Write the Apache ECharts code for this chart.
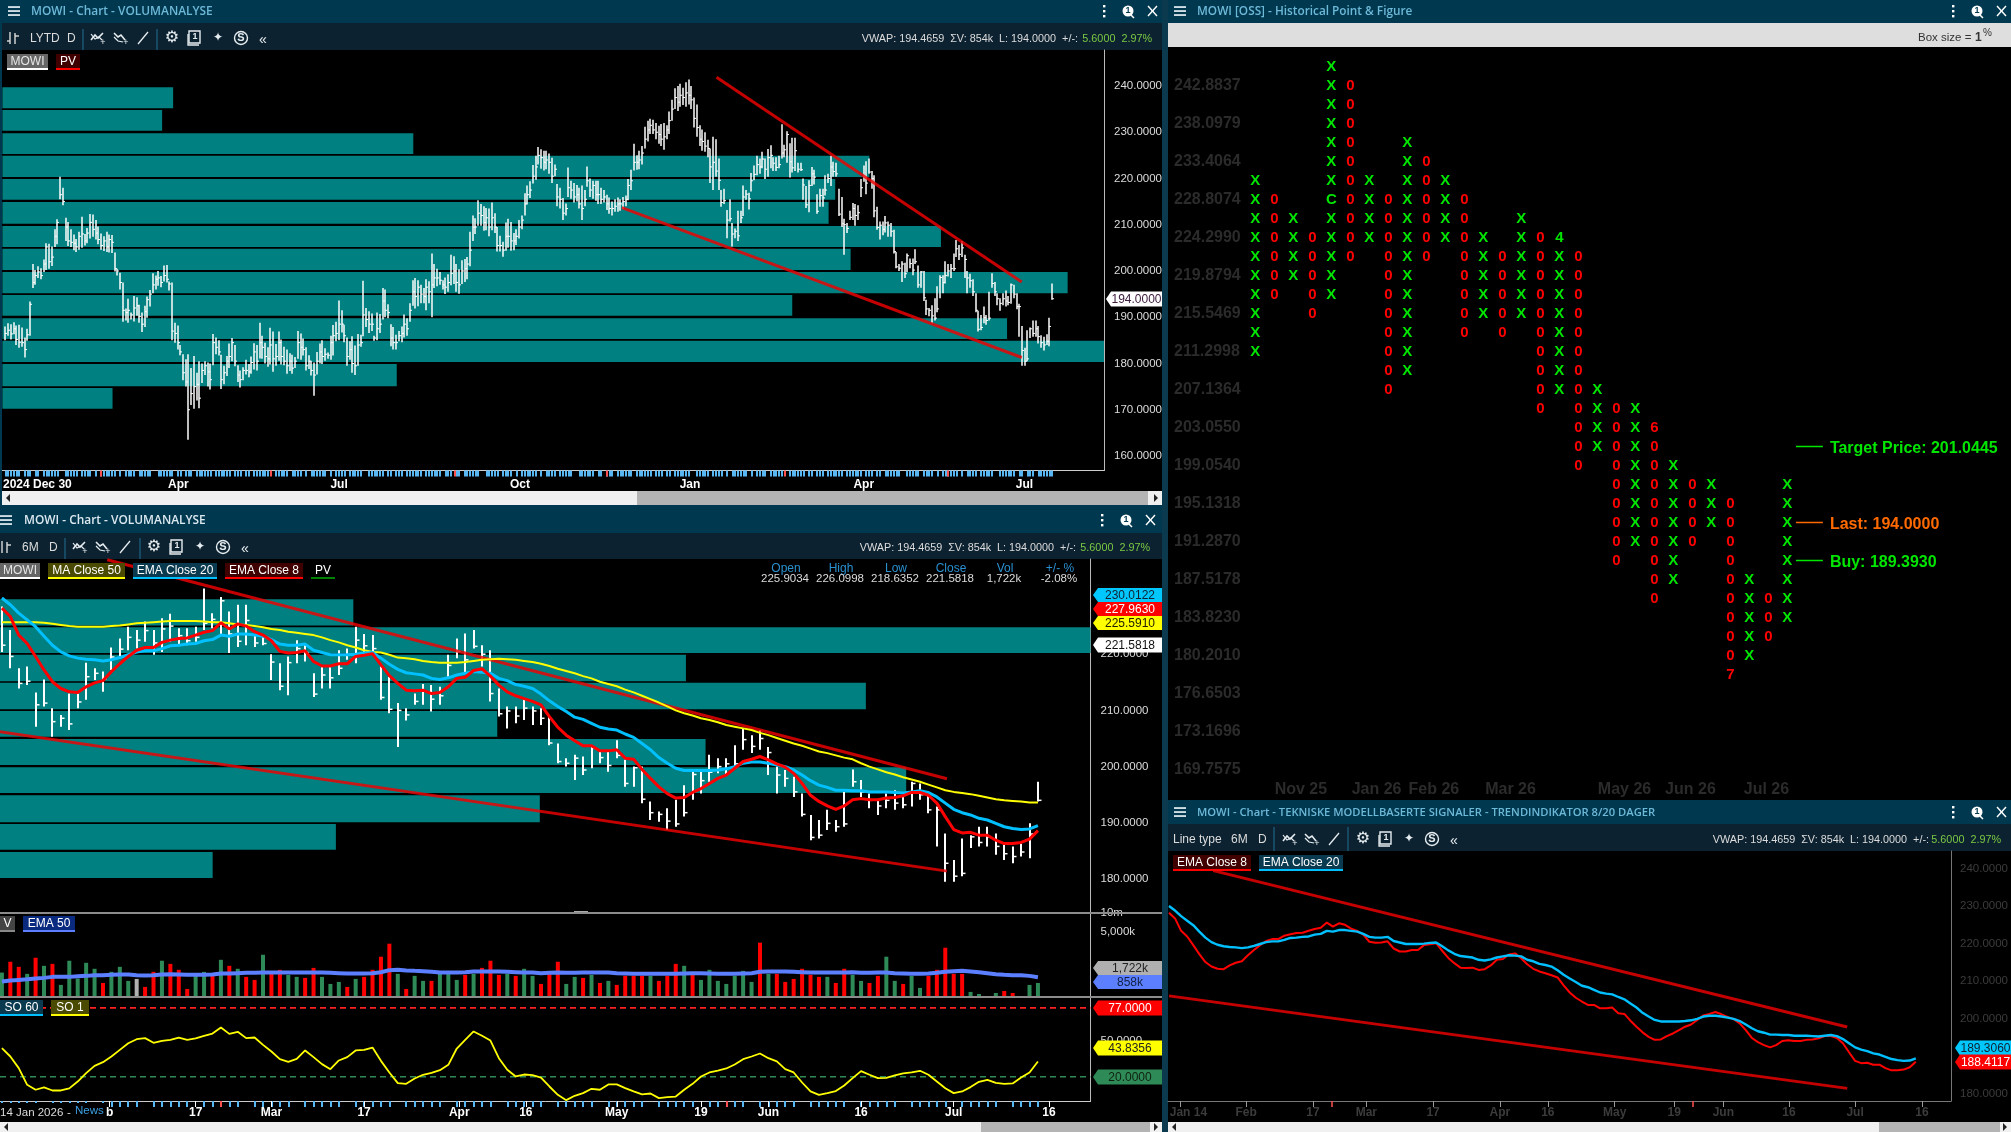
<!DOCTYPE html>
<html><head><meta charset="utf-8"><style>html,body{margin:0;padding:0;background:#003850}#c{width:2011px;height:1132px}</style>
<script src="https://cdn.jsdelivr.net/npm/echarts@6/dist/echarts.min.js"></script></head><body><div id="c"></div>
<script>
// ---------- daily bars ----------
const earlyHighs=[188.0,188.7,188.5,188.9,188.2,188.4,187.8,185.6,187.5,193.4,201.5,200.2,201.0,200.6,202.5,206.0,205.9,205.3,209.0,211.2,220.4,218.0,211.5,210.6,209.0,207.9,206.9,208.5,211.7,208.0,209.3,212.3,212.2,211.0,209.6,208.1,207.5,208.5,207.9,207.8,204.0,200.5,199.6,197.5,191.9,194.0,191.0,194.6,194.3,192.7,191.0,192.5,194.5,195.9,199.5,199.0,200.0,198.9,201.2,201.3,197.7,197.5,188.8,188.2,184.0,182.0,180.9,182.0,179.0,181.6,178.0,180.5,180.0,180.5,180.2,180.0,186.4,185.6,185.0,181.9,179.5,181.6,184.3,185.5,184.0,179.6,178.5,179.2,180.8,179.9,181.5,184.4,184.0,188.8,186.0,184.5,183.5,187.7,186.9,184.2,186.9,185.2,183.6,183.0,182.2,181.9,181.4,187.0,186.5,185.4,183.5,181.8,180.6,180.2,182.5,184.3,185.0,183.3,182.4,186.0,188.3,189.0,193.6,191.5,188.4,185.6,184.8,185.9,183.9,186.4,186.2,197.9,192.0,191.3,190.8,186.0,191.0,190.7,196.3,196.0,192.8,188.5,187.9,186.2,187.0,188.0,190.6,189.8,193.0,198.0,198.5,198.0,197.0,196.3,198.2,197.8,203.8,201.5,200.5,199.8,198.0,198.6,199.3,203.5,203.2,201.5,200.4,202.3,202.6,203.0,208.5,212.0,211.4,215.3,214.5,214.0,213.6,213.5,214.8,212.5,209.5,207.6,206.3,210.5,211.3,210.6,208.2,209.0,211.0,212.0,216.8,218.5,219.4,222.9,224.9,226.8,226.3,226.0,226.0,225.4,224.5,223.0,218.8,218.0,215.8,214.6,222.4,219.5,219.0,218.6,218.0,218.5,217.5,222.6,220.0,219.5,219.5,219.5,218.0,217.5,216.5,215.9,215.0,215.5,215.9,215.5,216.0,216.3,219.9,221.9,227.5,225.0,226.0,227.0,231.2,232.5,232.9,232.7,232.0,231.4,231.8,232.0,231.5,234.5,237.0,239.5,240.0,240.5,239.6,240.8,241.4,240.0,237.5,236.0,231.5,230.6,230.0,228.4,226.5,229.0];
const earlyLows=[185.0,186.0,185.2,186.3,184.0,183.4,183.6,181.3,184.9,186.0,196.3,197.0,198.5,198.2,199.8,200.2,200.5,201.1,205.2,205.8,215.5,214.2,206.5,205.4,205.2,204.5,204.1,204.6,205.0,205.5,206.0,207.0,207.4,206.8,205.8,204.6,204.3,204.1,204.0,203.9,199.9,199.0,196.0,189.0,189.3,188.8,189.5,189.1,190.3,188.8,186.8,187.9,189.9,192.3,195.2,196.0,196.8,196.5,197.7,197.5,195.8,185.0,184.5,183.0,181.8,176.4,175.0,163.5,171.0,170.2,172.0,170.3,175.8,177.5,175.0,174.4,179.6,182.0,181.7,174.5,175.5,177.3,179.0,180.5,179.4,176.0,174.8,176.4,177.6,177.0,177.8,178.7,178.5,181.1,181.0,180.0,179.3,179.8,178.2,179.5,180.6,179.8,179.6,177.8,178.4,177.8,179.0,181.0,180.8,181.7,178.5,178.8,177.4,173.0,177.6,180.0,179.9,180.6,181.0,180.8,181.7,184.8,185.0,186.7,184.6,179.5,180.8,178.0,177.5,179.5,183.6,185.9,187.9,186.6,187.0,184.9,185.0,186.6,189.5,190.0,189.8,183.7,183.0,183.0,184.8,184.6,185.6,186.0,189.0,192.5,191.9,192.4,193.0,193.0,191.5,193.0,190.0,196.3,196.7,197.0,196.0,195.0,195.5,196.9,197.2,195.5,195.1,197.2,197.6,198.2,201.0,206.5,208.0,209.8,209.8,208.7,208.8,207.5,208.8,208.2,204.2,204.2,203.1,204.4,205.0,204.4,204.5,205.6,207.0,209.0,212.0,214.4,215.8,218.9,219.7,223.0,222.1,221.7,222.0,221.0,219.0,220.5,214.0,213.5,211.0,212.0,216.0,215.6,214.8,215.0,213.5,211.0,214.0,218.2,216.0,215.6,215.2,214.5,214.5,214.8,213.2,212.4,212.0,212.8,212.8,213.0,213.4,214.0,215.3,217.5,221.7,221.9,222.0,223.0,226.5,228.0,229.6,229.6,228.5,227.5,227.0,226.2,228.5,229.6,232.5,235.0,234.6,235.5,235.9,235.5,236.0,235.0,231.0,229.0,227.0,226.0,225.8,224.6,219.0,217.5];
const earlyCloses=[186.5,187.2,186.4,187.5,185.2,184.6,184.5,183.0,186.2,192.8,197.5,199.0,199.8,199.0,201.5,205.2,202.0,203.0,207.5,210.5,216.5,215.0,209.5,206.5,206.2,206.0,205.2,207.5,208.0,206.5,208.2,210.5,209.0,208.2,206.8,205.5,206.5,205.2,206.8,206.2,200.5,200.0,197.5,191.5,191.0,191.5,190.5,192.0,192.5,190.2,188.5,191.2,193.8,195.0,197.0,198.2,198.5,197.5,199.0,198.2,197.2,187.0,186.5,184.5,182.5,178.0,176.0,170.0,173.5,175.0,175.5,172.5,178.5,179.5,178.2,176.5,184.5,183.5,182.5,176.5,178.0,180.5,181.5,184.5,180.5,177.5,176.5,178.5,178.5,178.2,180.2,182.5,180.5,184.5,183.5,181.5,181.0,184.0,181.0,181.5,184.5,181.5,180.5,179.5,180.5,179.0,180.5,184.5,183.5,183.0,179.5,180.5,178.5,177.5,180.5,182.5,181.5,182.0,181.8,184.5,186.0,186.5,188.5,188.5,186.0,181.5,183.0,180.0,179.5,184.0,184.5,190.5,189.5,188.5,188.5,185.5,187.5,188.5,193.5,191.5,191.0,185.5,184.5,184.5,186.0,186.5,188.5,187.5,191.5,195.5,194.5,196.5,195.0,194.5,196.5,195.5,197.0,198.5,198.5,198.0,197.0,196.5,197.5,199.5,200.0,197.5,197.0,200.0,200.5,201.5,204.5,209.5,209.5,212.5,212.0,210.5,211.5,209.5,211.5,209.5,205.5,205.5,204.5,207.5,207.5,206.5,206.5,207.5,209.5,211.0,214.5,216.5,217.5,220.5,222.5,225.0,224.5,223.5,224.0,223.5,220.5,222.0,216.0,215.5,212.5,213.5,218.0,217.5,216.0,216.5,214.5,213.5,215.5,219.5,217.5,218.5,216.5,216.5,215.5,216.0,214.5,213.5,213.5,214.0,214.5,214.5,215.0,215.5,218.5,219.5,223.5,223.5,224.0,225.5,228.5,230.5,231.5,230.5,230.0,229.5,228.5,229.0,230.5,232.5,235.0,237.5,236.5,238.0,237.5,238.5,238.0,237.0,233.0,231.0,228.5,228.0,227.0,226.5,222.5,223.5];
const lateHighs=[228.5,224.3,217.5,217.8,213.2,215.5,210.4,209.2,213,213,218.5,217.5,216.9,221.2,222.8,224.9,224.3,225.8,224.3,226.4,227.2,224.6,224.6,224.9,231.7,227.3,230.2,227.6,228.8,228.8,223.4,223.4,220,218.4,219.6,222.5,221.9,216.6,217.8,217.8,220.7,221,224.9,223.6,223.4,217.8,216,211.3,210.4,213,214.7,214.5,214.2,219.9,222.8,223.7,224.3,221.6,220.7,213.9,210.7,210.7,211.9,210.7,210.4,208.9,204.1,201.5,202.1,201.8,203.8,202.7,202.7,204.7,201.2,200,200,193.8,192,192.6,194.1,196.7,199.1,199.1,202.1,201.5,201.5,203.8,206.7,205.6,206.5,203.5,200,199.4,198.2,195.2,191.4,190.5,192.3,190.5,195.5,199.5,197.6,195.2,194.1,195.2,195.8,194.6,197.3,197,195.2,192.9,188.1,183.4,187.2,187.8,189.3,189.3,188.1,186.1,185.8,186.3,189.9,197.3];
const lateLows=[220.4,217.5,213.9,214.5,207.1,210.7,205.3,207.1,206.5,210.4,211.9,215.4,213.3,217.2,219.6,220.7,221,222.2,219.9,220.4,222.2,221.6,221.6,222.2,224.3,224.6,223.4,220.2,221.3,221.6,221.3,221.6,215.4,213.6,212.7,218.4,218.7,212.4,213.9,213.9,216.3,219,218.4,220.4,220.4,211.9,209.5,203.5,208.2,211,211,209.8,211,216,219.3,216.6,221,217.8,211.6,208.9,206.8,207.7,208.3,207.4,207.4,203.8,200.6,200,197.6,198.5,199.7,200.6,199.1,201.5,196.4,196.4,193.5,190.5,190.2,188.7,189.3,191.1,194.1,195.2,197.3,198.8,198.5,200,203,202.4,203,198.5,195.2,196.4,194.6,191.1,186.9,187.2,188.7,188.4,189.3,196.4,194.6,192.6,191.4,192.6,192.3,192.6,192.9,194.1,191.7,185.8,179.5,179.5,180.5,185.5,185.8,185.8,184.3,183.4,182.8,184,183.7,193.8];
const lateCloses=[221.6,219.6,214.8,215.2,211,211.3,208,208.6,207.6,211.5,216,216.6,215.6,219.5,220.9,223,222.5,224.2,222,224.5,225,223.3,222.4,223,225.5,226.2,229.5,223.6,222.3,226,222,221.9,218.6,214.3,218.5,221,220.3,212.9,216.3,215.8,217.5,220,222.5,221.5,221,212.3,210.2,210,209.2,211.6,213.5,212,212.6,218,220.5,219,221.4,220,213,209.4,209.9,209,210.4,209.9,208.6,204.2,200.9,200.6,201.5,199.4,203.3,201.6,200.2,202,197,199.8,194.2,191.8,191.5,190.3,189.8,191.8,198.6,197.5,199,200,200.5,200.5,204.8,203.6,205,202.5,198.5,197.9,195.5,191.5,187.4,187.8,189.9,189.3,189.8,197.3,195.5,194,193,194,193.5,193.2,197,195,192.3,192.3,182.8,180.5,181,187.5,186.5,187.5,185.8,184.5,184,184.8,188,194];
// ---------- moving averages, last six months ----------
const ema8=[228.2,226.7,223.4,221.9,219.6,217.2,215.1,213.9,213.3,213.2,214.2,214.9,215.3,216.9,218.3,219.6,220.7,221.2,221.2,222.1,222.5,222.8,222.9,223.4,223.9,224.2,225.6,224.5,225.4,225,224,223.4,222.4,220.5,220.2,220.3,220.6,218.7,217.9,217.9,218.3,218.3,219.6,219.8,220.1,218.1,216.2,214.8,213.6,213.5,213.6,213,213.2,214.2,215.7,215.9,217.1,217.4,216.1,214.5,213.3,212.6,212.1,211.6,211,208.9,207,205.6,204.6,203.7,203.7,202.8,202.8,203,201.5,201.3,199.5,197.9,196.4,195.2,194.4,194.5,195.4,196.1,197,197.9,198.5,199.7,200.9,201.3,201.8,201.2,200.5,199.9,198.8,197,194.9,193.8,193,192.4,193,194.1,194.3,194.1,194.1,194.4,194.5,194.8,195.4,195.4,194.9,193.5,191.1,188.8,188.2,188.3,187.8,187.8,186.9,186.3,186.3,186.5,187.1,188.6];
const ema20=[230,228.8,227.3,226.1,224.9,223.2,221.6,220.4,219.7,219.3,219.1,219,218.8,219,219.4,219.9,220.4,220.6,220.6,221,221.5,221.6,221.8,221.9,222.4,222.6,223.4,223.2,223.6,223.6,223.4,223.2,222.6,221.8,221.6,221.6,221.8,220.7,220.3,219.9,219.9,219.9,220,220.2,220.3,219.3,218.2,217.3,216.7,216.5,216.3,215.7,215.5,215.8,216.3,216.6,216.9,216.8,216.6,215.7,215.3,214.6,214.3,213.9,212.9,211.7,210.7,209.8,208.8,208.4,207.7,207,206.7,206.5,205.8,205.2,204.1,203,201.6,200.6,199.7,199.3,199.3,199.3,199.3,199.4,199.6,200,200.6,200.8,200.8,200.6,200.3,200,199.4,198.5,197.5,196.7,196.3,195.8,195.8,195.7,195.7,195.5,195.5,195.5,195.4,195.3,195.5,195.7,195.4,194.6,193.5,192.4,191.8,191.4,190.8,190.5,189.9,189.3,189,188.8,188.9,189.5];
const ma50=[225.7,225.7,225.7,225.7,225.7,225.6,225.4,225.2,225,224.9,224.9,224.9,224.9,225,225.1,225.3,225.5,225.6,225.7,225.8,225.9,225.9,225.9,225.9,225.8,225.7,225.7,225.5,225.3,225.2,225,224.8,224.5,224.3,224,223.8,223.6,223.4,223,222.5,222.1,221.6,221.2,220.7,220.4,220.3,219.9,219.4,219.3,219.1,218.8,218.6,218.5,218.5,218.5,218.6,218.8,219,219.1,219.2,219.1,219,218.8,218.6,218.3,217.9,217.4,217,216.6,216.1,215.7,215.1,214.7,214.3,213.7,213.2,212.6,212,211.4,210.7,210,209.5,209.1,208.6,208.3,207.9,207.4,207.1,206.8,206.5,206,205.6,205.1,204.6,204.1,203.7,203.2,202.7,202.4,202,201.6,201.3,200.6,200,199.5,199,198.6,198.1,197.7,197.3,196.8,196.3,195.8,195.5,195.3,195.1,194.8,194.5,194.2,194,193.9,193.8,193.6,193.6];
// ---------- volume ----------
const volumes=[1880,2710,2320,1780,3020,2400,2550,930,2790,1420,2630,2170,1080,1935,2320,1240,1390,775,1935,2790,2550,2090,620,1625,1935,1700,2860,2400,2170,1550,1315,3250,1780,2090,1700,1550,1470,2240,1550,1005,1160,775,1390,1550,2090,3100,4100,1780,620,1625,1240,1240,1780,1780,1315,1700,1780,2240,2790,1700,1780,1625,2170,1625,1005,1780,2710,1005,1550,1470,1700,1080,1240,930,1625,1625,1625,1625,1240,1625,2550,2400,1700,1315,2090,1240,1005,1625,2010,1160,4180,1780,1780,1160,1390,2170,1700,1550,1550,1080,2170,1700,1240,1080,1625,3100,1240,1005,1625,700,1625,2090,3790,1780,1780,390,230,50,310,465,310,50,930,1080];
const volColors=['g','r','r','g','r','g','r','g','g','g','g','g','r','g','g','g','n','r','r','g','r','r','r','g','g','r','g','r','g','r','r','g','r','r','g','g','r','r','g','g','g','r','g','r','r','r','r','g','r','g','g','r','g','g','g','r','g','r','r','r','g','r','g','g','r','r','r','g','g','r','g','r','g','r','r','r','r','g','r','r','r','g','r','g','g','g','g','g','g','g','r','g','r','r','r','r','r','r','g','r','r','g','g','r','r','g','g','r','g','g','r','r','r','r','r','g','g','r','g','r','r','g','g','g'];
const volEma50=[1187,1264,1316,1367,1419,1471,1548,1548,1548,1600,1625,1677,1677,1703,1729,1729,1677,1651,1677,1729,1754,1729,1703,1703,1703,1729,1806,1806,1832,1858,1858,1883,1883,1883,1883,1883,1883,1883,1883,1858,1832,1806,1806,1806,1832,1909,2064,2090,2038,2012,1987,1935,1883,1883,1883,1909,1961,1961,1961,1961,1935,1909,1883,1883,1832,1858,1883,1858,1858,1883,1883,1883,1883,1832,1806,1780,1780,1780,1780,1780,1780,1806,1832,1832,1806,1780,1780,1780,1806,1832,1935,1961,1961,1961,1935,1909,1883,1883,1883,1883,1883,1909,1858,1858,1883,1883,1832,1806,1780,1780,1806,1858,1935,1987,2012,1961,1909,1832,1754,1703,1677,1677,1625,1522];
// ---------- stochastic ----------
const stoch=[43.7,36.8,27.2,13.4,9.3,11.2,8.7,8.7,10.4,16.1,23,29.1,32.1,36.8,42.3,47.8,51.1,52,48.1,49.8,50.6,52.5,50.6,51.7,53.9,55.8,60.8,55.5,57.2,52,52.5,46.4,40.9,34.6,32.4,34.9,41.8,36.3,30.5,26.3,33.5,36.3,41.8,42.3,44.2,33.2,23.6,14.8,14.2,18.6,21.7,23.3,25.5,29.9,43.4,50.6,57.5,53.9,50,35.4,25.8,20.3,21.9,21.4,19.4,12,5.1,0.7,4.3,6.5,10.1,9.3,13.7,13.7,10.6,7.9,5.4,6.2,2.4,3.2,3.7,9.3,14.2,20.3,23.6,25.2,26.9,30.2,34.6,36.8,39.3,35.4,32.7,26.3,23.6,15.3,7.9,5.1,6.5,8.2,12.8,18.9,24.7,21.7,18.9,19.2,21.1,22.8,23.6,25,21.7,16.1,10.6,6.5,7.9,11.5,15.9,17.5,15,14.2,14.5,19.4,23.6,32.7];
const soLevels=[77,20];
// ---------- volume profiles ----------
const profTopHigh=[239.7,234.8,229.8,224.9,219.9,214.9,209.7,204.8,199.8,194.8,189.8,184.9,179.9,174.7];
const profTopLow=[235.2,230.3,225.3,220.3,215.4,210.2,205.2,200.2,195.2,190.3,185.3,180.3,175.1,170.2];
const profTopVol=[15.5,14.5,37.3,78.7,75.6,75,85.2,77,96.7,71.7,91.2,100,35.8,10];
const profMidHigh=[229.8,224.8,219.9,214.9,209.9,204.9,199.9,194.9,189.8,184.8];
const profMidLow=[225.1,220.2,215.2,210.2,205.3,200.3,195.3,190.1,185.2,180.2];
const profMidVol=[32.4,100,62.9,79.4,45.6,64.7,83.1,49.5,30.8,19.5];
// ---------- trend lines (bar index, price) ----------
const topUpperIdx=[260.2,371.9], topUpperPx=[241.9,197.6], topLowerIdx=[225.6,371.9], topLowerPx=[213.7,181.3];
const midUpperIdx=[12.5,112.2], midUpperPx=[236.8,197.85], midLowerIdx=[-0.3,112.2], midLowerPx=[206.2,181.4];
const rgtUpperIdx=[7.3,111.7], rgtUpperPx=[239.4,197.8], rgtLowerIdx=[0,111.7], rgtLowerPx=[206.1,181.5];
// ---------- axis labels ----------
const topLabelIdx=[11.7,63.3,122.1,188.3,250.5,314.1,372.9], topLabels=['2024 Dec 30','Apr','Jul','Oct','Jan','Apr','Jul'];
const topRedTicks=[35,97,164.5,220,285,345];
const soLabelIdx=[12.8,23,32,43,54.3,62.2,73,83,91,102,113,124.3], soLabels=['b','17','Mar','17','Apr','16','May','19','Jun','16','Jul','16'];
const soRedTicks=[26,86];
const rgtLabelIdx=[3.2,12.7,23.7,32.5,43.5,54.5,62.4,73.4,83.2,91.3,102.1,113,124], rgtLabels=['Jan 14','Feb','17','Mar','17','Apr','16','May','19','Jun','16','Jul','16'];
const rgtTickIdx=[1.8,12.7,23.7,32.5,43.5,54.5,62.4,73.4,83.2,91.3,102.1,113,124], rgtRedTicks=[26.8,86.3];
const topPriceTicks=[160,170,180,190,200,210,220,230,240];
const midPriceTicks=[180,190,200,210,220];
const rgtPriceTicks=[180,190,200,210,220,230,240];
// ---------- point & figure ----------
const pfPrices=['242.8837','238.0979','233.4064','228.8074','224.2990','219.8794','215.5469','211.2998','207.1364','203.0550','199.0540','195.1318','191.2870','187.5178','183.8230','180.2010','176.6503','173.1696','169.7575'];
const pfType=['X','0','X','0','X','0','X','0','X','0','X','0','X','0','X','0','X','0','X','0','X','0','X','0','X','0','X','0','X'];
const pfFirst=[6,7,8,9,0,1,6,7,4,5,6,7,9,10,8,9,10,10,17,18,18,20,21,22,22,23,27,28,22];
const pfLast=[15,12,11,13,12,10,9,17,16,10,9,14,13,14,13,18,17,21,20,26,25,28,27,25,24,31,31,30,29];
const pfSpecialCol=[4,16,21,25], pfSpecialRow=[7,9,19,32], pfSpecialChar=['C','4','6','7'];
const pfMonths=['Nov 25','Jan 26','Feb 26','Mar 26','May 26','Jun 26','Jul 26'], pfMonthCol=[2.4,6.38,9.4,13.43,19.43,22.9,26.9];
const pfTargetNames=['Target Price: 201.0445','Last: 194.0000','Buy: 189.3930'], pfTargetRows=[20,24,26], pfTargetColors=['#00e600','#ff6a00','#00e600'];

// ---------- derived bar tables ----------
const highs=earlyHighs.concat(lateHighs), lows=earlyLows.concat(lateLows), closes=earlyCloses.concat(lateCloses);
const allBars=highs.map((h,i)=>[i,h,lows[i],closes[i]]);
const lateBars=lateHighs.map((h,i)=>[i,h,lateLows[i],lateCloses[i]]);
const idx=a=>a.map((v,i)=>[i,v]);
const FONT='"Liberation Sans",Arial,sans-serif', TF='"Open Sans",sans-serif';
const TEAL='#008080', TXT='#dcdcdc';
const pairs=(a,b)=>a.map((v,i)=>[v,b[i]]);

function ohlc(tick,w,tw){return (p,api)=>{const i=api.value(0),a=api.coord([i,api.value(1)]),b=api.coord([i,api.value(2)]),c=api.coord([i,api.value(3)]);
 const x=Math.round(a[0]);
 return {type:'group',children:[{type:'line',shape:{x1:x,y1:a[1],x2:x,y2:b[1]},style:{stroke:'#fff',lineWidth:w}},
 {type:'line',shape:{x1:x,y1:c[1],x2:x+tick,y2:c[1]},style:{stroke:'#fff',lineWidth:tw}}]};};}
function prof(p,api){const a=api.coord([0,api.value(0)]),b=api.coord([api.value(2),api.value(1)]);
 return {type:'rect',shape:{x:a[0],y:a[1],width:b[0]-a[0],height:b[1]-a[1]},style:{fill:TEAL}};}

const X=(g,min,max,extra)=>{const o=Object.assign({type:'value',gridIndex:g,min,max,position:'bottom',splitLine:{show:false},axisLine:{show:false},axisTick:{show:false},axisLabel:{show:false}},extra||{});o.axisLine.onZero=false;return o;};
const Y=(g,min,max,ticks,color,margin,fmt)=>({type:'value',gridIndex:g,min,max,position:'right',splitLine:{show:false},axisTick:{show:false},
 axisLine:{show:true,onZero:false,lineStyle:{color:color==='#3c3c3c'?'#777':'#bbb',width:1}},
 axisLabel:{show:true,customValues:ticks,color,margin,fontFamily:FONT,fontSize:11.5,padding:[2,0,0,0],formatter:fmt||(v=>Number(v).toFixed(4))}});
const range=n=>[...Array(n).keys()];

const topX=[-1.1,402],midX=[-0.226,129.24],rgtX=[-0.16,128.8],blue='#58b6f2';
const xAxis=[
 X(0,topX[0],topX[1],{axisLine:{show:true,lineStyle:{color:'#ccc'}},axisTick:{show:true,customValues:range(highs.length).filter(i=>i%7!==6&&i%11!==10),length:6,lineStyle:{color:blue,width:2}},
   axisLabel:{show:true,customValues:topLabelIdx,color:'#fff',fontWeight:'bold',fontFamily:FONT,fontSize:12,margin:8,formatter:v=>topLabels[topLabelIdx.indexOf(v)]}}),
 X(0,topX[0],topX[1],{axisTick:{show:true,customValues:topRedTicks,length:6,lineStyle:{color:'#ff5050',width:2}}}),
 X(0,0,100),
 X(1,midX[0],midX[1]),X(1,0,100),
 X(2,midX[0],midX[1]),
 X(3,midX[0],midX[1],{axisLine:{show:true,lineStyle:{color:'#ccc'}},axisTick:{show:true,customValues:range(124).filter(i=>i%6!==5),length:6,lineStyle:{color:blue,width:2}},
   axisLabel:{show:true,customValues:soLabelIdx,color:'#fff',fontWeight:'bold',fontFamily:FONT,fontSize:12,margin:6,formatter:v=>soLabels[soLabelIdx.indexOf(v)]}}),
 X(3,midX[0],midX[1],{axisTick:{show:true,customValues:soRedTicks,length:6,lineStyle:{color:'#ff5050',width:2}}}),
 X(3,midX[0],midX[1],{axisTick:{show:true,customValues:soLabelIdx,length:6,lineStyle:{color:'#fff',width:1}}}),
 X(4,-4.595,39.77),
 X(5,rgtX[0],rgtX[1],{axisLine:{show:true,lineStyle:{color:'#777'}},axisTick:{show:true,customValues:rgtTickIdx,length:6,lineStyle:{color:'#999',width:1}},
   axisLabel:{show:true,customValues:rgtLabelIdx,color:'#3c3c3c',fontWeight:'bold',fontFamily:FONT,fontSize:12,margin:6,formatter:v=>rgtLabels[rgtLabelIdx.indexOf(v)]}}),
 X(5,rgtX[0],rgtX[1],{axisTick:{show:true,customValues:rgtRedTicks,length:6,lineStyle:{color:'#ff5050',width:1.5}}}),
];
const yAxis=[
 Y(0,156.84,247.78,topPriceTicks,TXT,10),
 Y(1,173.95,236.94,midPriceTicks,TXT,10),
 Y(2,0,6461,[5000,6461],TXT,10,v=>v>6000?'10m':'5,000k'),
 Y(3,0,86,[50],TXT,10),
 {type:'value',gridIndex:4,min:-1.02,max:38.6,inverse:true,position:'left',splitLine:{show:false},axisTick:{show:false},axisLine:{show:false,onZero:false},
  axisLabel:{show:true,inside:true,margin:6,padding:[2,0,0,0],customValues:pfPrices.map((_,i)=>1+2*i),color:'#2b2b2b',fontWeight:'bold',fontFamily:FONT,fontSize:16,formatter:v=>pfPrices[(v-1)/2]}},
 Y(5,178.14,244.63,rgtPriceTicks,'#3c3c3c',9),
];
const grid=[
 {left:2,top:50,width:1102,height:420.6},
 {left:0,top:559,width:1090.5,height:354},
 {left:0,top:913,width:1090.5,height:84},
 {left:0,top:997,width:1090.5,height:104},
 {left:1168,top:47,width:843,height:753},
 {left:1168,top:851,width:785.5,height:250},
];
const lineS=(x,y,data,color,w,z,extra)=>Object.assign({type:'line',xAxisIndex:x,yAxisIndex:y,data,showSymbol:false,symbol:'none',silent:true,z,lineStyle:{color,width:w},itemStyle:{color}},extra||{});
const trend=(x,y,d)=>lineS(x,y,d,'#f00000',3,6,{lineStyle:{color:'#f00000',width:3,opacity:.82}});

// P&F tables
const pfCells=[];
pfType.forEach((t,c)=>{for(let r=pfFirst[c];r<=pfLast[c];r++){const s=pfSpecialCol.findIndex((k,j)=>k===c&&pfSpecialRow[j]===r);
 pfCells.push([c,r,s>=0?pfSpecialChar[s]:t,t==='X'?'#00e600':'#ff0000']);}});
pfSpecialCol.forEach((c,j)=>{const r=pfSpecialRow[j];if(r<pfFirst[c]||r>pfLast[c])pfCells.push([c,r,pfSpecialChar[j],pfType[c]==='X'?'#00e600':'#ff0000']);});

const series=[
 {type:'custom',name:'Top profile',xAxisIndex:2,yAxisIndex:0,z:1,silent:true,data:profTopVol.map((v,i)=>[profTopHigh[i],profTopLow[i],v]),renderItem:prof,encode:{x:2,y:[0,1]}},
 {type:'custom',name:'MOWI',xAxisIndex:0,yAxisIndex:0,z:3,silent:true,data:allBars,renderItem:ohlc(2,1.5,1),encode:{x:0,y:[1,2,3]}},
 trend(0,0,pairs(topUpperIdx,topUpperPx)),trend(0,0,pairs(topLowerIdx,topLowerPx)),

 {type:'custom',name:'Mid profile',xAxisIndex:4,yAxisIndex:1,z:1,silent:true,data:profMidVol.map((v,i)=>[profMidHigh[i],profMidLow[i],v]),renderItem:prof,encode:{x:2,y:[0,1]}},
 {type:'custom',name:'MOWI 6M',xAxisIndex:3,yAxisIndex:1,z:3,silent:true,data:lateBars,renderItem:ohlc(3.5,2,1.5),encode:{x:0,y:[1,2,3]}},
 trend(3,1,pairs(midUpperIdx,midUpperPx)),trend(3,1,pairs(midLowerIdx,midLowerPx)),
 lineS(3,1,idx(ma50),'#ffff00',2,7),lineS(3,1,idx(ema20),'#00c0ff',3,8),lineS(3,1,idx(ema8),'#ff0000',3,9),

 {type:'bar',xAxisIndex:5,yAxisIndex:2,barWidth:4,z:3,silent:true,data:volumes.map((v,i)=>({value:[i,v],itemStyle:{color:volColors[i]==='g'?'#2e8b57':volColors[i]==='r'?'#ff0000':'#b0b0b0'}}))},
 lineS(5,2,idx(volEma50),'#5b7fff',4,5),

 lineS(6,3,[[midX[0],soLevels[0]],[midX[1],soLevels[0]]],'#ff2020',1.6,3,{lineStyle:{color:'#ff2020',width:1.6,type:[6,4]}}),
 lineS(6,3,[[midX[0],soLevels[1]],[midX[1],soLevels[1]]],'#2e8b57',1.6,3,{lineStyle:{color:'#2e8b57',width:1.6,type:[6,4]}}),
 lineS(6,3,idx(stoch),'#ffff00',1.8,5),

 {type:'custom',name:'Point and figure',xAxisIndex:9,yAxisIndex:4,z:3,silent:true,data:pfCells,encode:{x:0,y:1},renderItem:(p,api)=>{const d=pfCells[p.dataIndex],c=api.coord([d[0],d[1]]);
   return {type:'text',style:{x:c[0],y:c[1],text:d[2],fill:d[3],font:'bold 15px '+FONT,textAlign:'center',textVerticalAlign:'middle'}};}},
 {type:'custom',name:'P&F months',xAxisIndex:9,yAxisIndex:4,z:3,silent:true,data:pfMonthCol.map((c,i)=>[c,38,i]),encode:{x:0,y:1},renderItem:(p,api)=>{const c=api.coord([api.value(0),api.value(1)]);
   return {type:'text',style:{x:c[0],y:c[1]+1,text:pfMonths[p.dataIndex],fill:'#2b2b2b',font:'bold 16px '+FONT,textAlign:'center',textVerticalAlign:'middle'}};}},
 ...pfTargetNames.map((n,i)=>lineS(9,4,[[28.45,pfTargetRows[i]],[29.87,pfTargetRows[i]]],pfTargetColors[i],1.5,4,{name:n,endLabel:{show:true,formatter:n,color:pfTargetColors[i],fontFamily:FONT,fontWeight:'bold',fontSize:16,distance:7,offset:[0,2]}})),

 trend(10,5,pairs(rgtUpperIdx,rgtUpperPx)),trend(10,5,pairs(rgtLowerIdx,rgtLowerPx)),
 lineS(10,5,idx(ema8),'#ff0000',2,7),lineS(10,5,idx(ema20),'#00c0ff',2.4,8),
];

// ---------- window chrome ----------
const g=[];
const rect=(x,y,w,h,fill,z=0)=>g.push({type:'rect',silent:true,z,shape:{x,y,width:w,height:h},style:{fill}});
const ln=(x1,y1,x2,y2,stroke,w=1,z=50)=>g.push({type:'line',silent:true,z,shape:{x1,y1,x2,y2},style:{stroke,lineWidth:w}});
const txt=(x,y,text,fill,font,align='left',z=60)=>g.push({type:'text',silent:true,z,style:{x,y:y+1,text,fill,font,textAlign:align,textVerticalAlign:'middle'}});
const poly=(points,fill,z=55)=>g.push({type:'polygon',silent:true,z,shape:{points},style:{fill}});
const pl=(points,stroke,w=1.5,z=60)=>g.push({type:'polyline',silent:true,z,shape:{points},style:{stroke,lineWidth:w,fill:'none'}});
const TB='#003850',TOOL='#0d2230',BLK='#000';
function hamburger(x,y){for(let k=-4;k<=4;k+=4)rect(x,y+k-.8,12,1.7,'#e8f0f4',60);}
function winBtns(x,y){for(let k=-5;k<=5;k+=5)rect(x-1,y+k-1,2.4,2.4,'#fff',60);
 g.push({type:'circle',silent:true,z:60,shape:{cx:x+24,cy:y,r:5.5},style:{fill:'#fff'}});txt(x+24,y-1,'1',TB,'bold 9px '+FONT,'center',61);ln(x+27,y+4,x+30,y+7,'#fff',1.5,60);
 ln(x+44,y-5,x+53,y+5,'#fff',1.4,60);ln(x+53,y-5,x+44,y+5,'#fff',1.4,60);}
function toolbar(cx,y){
 const c='#e6edf0';
 pl([[cx[0]-6,y+2],[cx[0]-2,y-3],[cx[0]+1,y],[cx[0]+6,y-5]],c,1.6);pl([[cx[0]-6,y-4],[cx[0]-2,y+1],[cx[0]+2,y-1],[cx[0]+5,y+2]],c,1.2);txt(cx[0]+6,y+4,'+',c,'9px '+FONT,'center');
 pl([[cx[1]-6,y-5],[cx[1]-2,y-1],[cx[1]+1,y-3],[cx[1]+5,y+2]],c,1.6);pl([[cx[1]-6,y-1],[cx[1]-2,y+3],[cx[1]+3,y+4]],c,1.2);txt(cx[1]+6,y+4,'+',c,'9px '+FONT,'center');
 ln(cx[2]-5,y+6,cx[2]+5,y-6,c,1.3,60);
 txt(cx[3],y-1,'⚙',c,'16px "DejaVu Sans"','center');
 g.push({type:'rect',silent:true,z:60,shape:{x:cx[4]-6,y:y-7,width:11,height:12},style:{stroke:c,fill:'none',lineWidth:1.4}});pl([[cx[4]-7,y-4],[cx[4]-7,y+7],[cx[4]+4,y+7]],c,1.3);txt(cx[4],y-2,'1',c,'bold 9px '+FONT,'center');
 txt(cx[5],y-1,'✦',c,'12px "DejaVu Sans"','center');
 g.push({type:'circle',silent:true,z:60,shape:{cx:cx[6],cy:y,r:6.5},style:{stroke:c,fill:'none',lineWidth:1.4}});txt(cx[6],y-1,'S',c,'bold 11px '+FONT,'center');
 txt(cx[7],y+1,'«',c,'14px '+FONT,'center');
}
function stats(xEndGray,xEndGreen,y){
 txt(xEndGray,y,'VWAP: 194.4659  ΣV: 854k  L: 194.0000  +/-:',TXT,'10.8px '+FONT,'right');
 txt(xEndGreen,y,'5.6000  2.97%','#7ac943','10.8px '+FONT,'right');
}
function legend(x,y,w,text,bg,ul,fill='#fff'){rect(x,y,w,14,bg,70);rect(x,y+14,w,2,ul,70);txt(x+w/2,y+6.5,text,fill,'12px '+FONT,'center',71);}
function tag(x,cy,w,h,text,bg,fill){poly([[x,cy],[x+5,cy-h/2],[x+w,cy-h/2],[x+w,cy+h/2],[x+5,cy+h/2]],bg,80);txt(x+(w+5)/2,cy,text,fill,'12px '+FONT,'center',81);}
function scroll(x,y,w,h,tx,tw){rect(x,y,w,h,'#f0f0f0',40);rect(tx,y,tw,h,'#b4b4b4',41);
 poly([[x+4,y+h/2],[x+8,y+h/2-4],[x+8,y+h/2+4]],'#222',42);poly([[x+w-4,y+h/2],[x+w-8,y+h/2-4],[x+w-8,y+h/2+4]],'#222',42);}

// backgrounds
rect(0,0,2011,1132,'#003850',-5);
rect(2,50,1160,441,BLK,-4); rect(0,559,1162,563,BLK,-4); rect(1168,47,843,753,BLK,-4); rect(1168,851,843,271,BLK,-4);
rect(1162,0,6,1132,'#0b3a4f',-3);
rect(2,23,1160,27,TOOL,-3); rect(0,533,1162,26,TOOL,-3); rect(1168,23,843,24,'#dedede',-3); rect(1168,824,843,27,TOOL,-3);

// panel 1
hamburger(8,11); txt(31,11,'MOWI - Chart - VOLUMANALYSE','#6db9d8','600 11.9px '+TF); winBtns(1104,11);
txt(30,38,'LYTD',TXT,'12px '+FONT); txt(67,38,'D',TXT,'12px '+FONT);
pl([[10,32],[10,44]],TXT,1.4);pl([[7,41],[10,41]],TXT,1.4);pl([[15,33],[15,44]],TXT,1.4);pl([[15,36],[19,36]],TXT,1.4);
ln(83,29,83,50,'#1c5a78',1.4,55);ln(157,29,157,50,'#1c5a78',1.4,55);
toolbar([97,120,143,172,195,218,241,263],38); stats(1078,1152,38);
legend(7,54,41,'MOWI','#666','#fff','#e6e6e6'); legend(56,54,24,'PV','#400000','#ff0000');
tag(1106,299,56,15,'194.0000','#fff','#402040');
scroll(2,491,1160,14,637,511);

// panel 2
hamburger(0,520); txt(24,520,'MOWI - Chart - VOLUMANALYSE','#dbe8ef','600 11.9px '+TF); winBtns(1102,520);
txt(22,547,'6M',TXT,'12px '+FONT); txt(49,547,'D',TXT,'12px '+FONT);
pl([[2,541],[2,553]],TXT,1.4);pl([[7,542],[7,553]],TXT,1.4);pl([[7,545],[11,545]],TXT,1.4);
ln(65,538,65,559,'#1c5a78',1.4,55);ln(140,538,140,559,'#1c5a78',1.4,55);
toolbar([79,102,125,154,177,200,223,245],547); stats(1076,1150,547);
legend(0,563,40,'MOWI','#666','#fff','#e6e6e6'); legend(48,563,77,'MA Close 50','#4a4a00','#ffff00'); legend(133,563,84,'EMA Close 20','#0a3a50','#00bfff');
legend(225,563,78,'EMA Close 8','#400000','#ff0000'); legend(311,563,24,'PV','#000','#008000');
const hdrX=[786,841,896,951,1005,1060],hdrN=['Open','High','Low','Close','Vol','+/- %'],hdrV=['225.9034','226.0998','218.6352','221.5818','1,722k','-2.08%'];
hdrN.forEach((n,i)=>{txt(hdrX[i],568,n,'#2a90d0','12px '+FONT,'center');txt(hdrX[i]-1,578,hdrV[i],TXT,'11.5px '+FONT,'center');});
tag(1093,595,69,14,'230.0122','#00c8ff','#102030'); tag(1093,609,69,14,'227.9630','#ff0000','#fff'); tag(1093,623,69,14,'225.5910','#ffff00','#202000'); tag(1093,645,69,15,'221.5818','#fff','#101010');
rect(0,912,1162,2,'#8c8c8c',30); rect(0,996,1162,2,'#8c8c8c',30); rect(574,911,14,1,'#aaa',31);
legend(0,916,15,'V','#444','#888'); legend(23,916,52,'EMA 50','#0a2a80','#5b7fff');
legend(0,1000,43,'SO 60','#0a3a50','#00bfff'); legend(51,1000,38,'SO 1','#4a4a00','#ffff00');
tag(1093,968,69,14,'1,722k','#b0b0b0','#222'); tag(1093,982,69,14,'858k','#5b7fff','#102040');
tag(1093,1008,69,15,'77.0000','#ff0000','#fff'); tag(1093,1048,69,15,'43.8356','#ffff00','#222'); tag(1093,1077,69,15,'20.0000','#2e8b57','#102010');
rect(0,1103,104,18,BLK,20);
txt(0,1112,'14 Jan 2026',TXT,'11.5px '+FONT,'left',61); txt(67,1112,'-',TXT,'11.5px '+FONT,'left',61); txt(75,1110,'News','#3c9ee0','11.5px '+FONT,'left',61);
scroll(0,1122,1162,10,981,169);

// panel 3
hamburger(1174,11); txt(1197,11,'MOWI [OSS] - Historical Point & Figure','#6db9d8','600 11.8px '+TF); winBtns(1953,11);
txt(1918,37,'Box size =','#333','11.5px '+FONT); txt(1975,37,'1','#333','bold 12px '+FONT); txt(1983,32,'%','#333','10px '+FONT);

// panel 4
hamburger(1174,812); txt(1197,812,'MOWI - Chart - TEKNISKE MODELLBASERTE SIGNALER - TRENDINDIKATOR 8/20 DAGER','#6db9d8','600 11.2px '+TF); winBtns(1953,812);
txt(1173,839,'Line type',TXT,'12px '+FONT); txt(1231,839,'6M',TXT,'12px '+FONT); txt(1258,839,'D',TXT,'12px '+FONT);
ln(1274,827,1274,851,'#1c5a78',1.4,55);ln(1348,827,1348,851,'#1c5a78',1.4,55);
toolbar([1289,1311,1334,1363,1386,1409,1432,1454],839); stats(1929,2001,839);
legend(1173,855,78,'EMA Close 8','#400000','#ff0000'); legend(1259,855,84,'EMA Close 20','#0a3a50','#00bfff');
tag(1955,1048,56,15,'189.3060','#00c8ff','#102030'); tag(1955,1062,56,15,'188.4117','#ff0000','#fff');
scroll(1168,1122,843,10,1879,121);

const chart=echarts.init(document.getElementById('c'),null,{renderer:'canvas'});
chart.setOption({animation:false,backgroundColor:'#003850',textStyle:{fontFamily:FONT},tooltip:{show:false},grid,xAxis,yAxis,series,graphic:{elements:g}});
</script></body></html>
